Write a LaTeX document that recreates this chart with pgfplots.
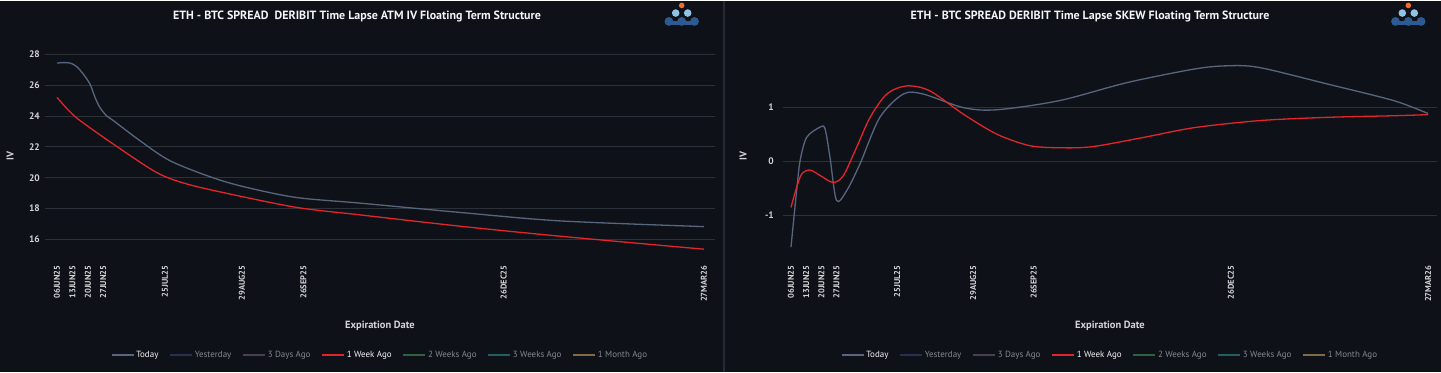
\documentclass[border=0pt]{standalone}
\usepackage{pgfplots}
\pgfplotsset{compat=1.18}
\usepackage{fontspec}
\setmainfont{PT Sans}
\definecolor{bg}{HTML}{0E1117}
\definecolor{gridc}{HTML}{2C3039}
\definecolor{txt}{HTML}{D4D4D6}
\definecolor{ttl}{HTML}{F4F4F4}
\definecolor{today}{HTML}{56667E}
\definecolor{yest}{HTML}{22324F}
\definecolor{three}{HTML}{46404F}
\definecolor{week}{HTML}{E0262C}
\definecolor{twow}{HTML}{2F6040}
\definecolor{threew}{HTML}{235E60}
\definecolor{month}{HTML}{806A48}
\definecolor{dimtxt}{HTML}{85888E}
\definecolor{divc}{HTML}{262932}
\definecolor{logoo}{HTML}{F26B2A}
\definecolor{logol}{HTML}{8EC3E6}
\definecolor{logod}{HTML}{2D5A92}

\pgfplotstableread{
d v
0 27.42
3 27.45
6 27.42
8.9 27.2
12 26.7
15 26.06
17.3 25.2
19.5 24.55
22.6 24.0
25.6 23.7
37.7 22.4
51.4 21.1
70.9 20.0
86.4 19.37
109 18.72
137.7 18.36
183 17.76
228.6 17.21
294 16.84
}\ivtoday
\pgfplotstableread{
d v
0 25.2
5 24.4
10.5 23.7
25.6 22.18
45.3 20.34
59 19.6
78.6 18.95
109 18.08
137.7 17.6
183 16.87
228.6 16.22
294 15.38
}\ivweek
\pgfplotstableread{
d v
0 -1.58
2.6 -0.54
4.2 0.01
7.2 0.44
13.4 0.63
15.7 0.6
18 0.07
21 -0.72
25.7 -0.54
31.8 -0.05
41 0.81
51.8 1.24
61 1.24
79.5 0.99
95 0.95
124 1.12
155 1.45
186 1.70
201 1.76
216 1.73
247 1.43
278 1.12
294 0.88
}\skewtoday
\pgfplotstableread{
d v
0 -0.85
2.6 -0.48
5 -0.23
8.8 -0.16
13.4 -0.26
19.5 -0.39
24.2 -0.26
30.3 0.26
36.5 0.81
44.2 1.24
53.4 1.39
64 1.30
79.5 0.87
95 0.50
110 0.29
124 0.25
139 0.27
162.6 0.44
186 0.62
216 0.75
247 0.81
278 0.84
294 0.86
}\skewweek

\pgfplotsset{
  common/.style={
    scale only axis, height=205.1bp,
    axis line style={draw=none}, major tick length=0pt,
    ymajorgrids, grid style={gridc, line width=0.8bp},
    xtick={0,7,14,21,49,84,112,203,294},
    xticklabels={06JUN25,13JUN25,20JUN25,27JUN25,25JUL25,29AUG25,26SEP25,26DEC25,27MAR26},
    xticklabel style={rotate=90, anchor=east, inner xsep=7bp, inner ysep=0pt,
      font=\fontsize{8.5}{9}\selectfont\bfseries, text=txt},
    yticklabel style={font=\fontsize{9.5}{10}\selectfont\bfseries, text=txt},
    /pgf/number format/assume math mode=true,
    xlabel={Expiration Date}, ylabel={IV},
    every axis x label/.style={at={(0.5,-0.327)}, anchor=center, text=txt,
      font=\fontsize{10.5}{11}\selectfont\bfseries},
    legend columns=7,
    legend style={at={(0.5,-0.47)}, anchor=center, draw=none, fill=none,
      font=\fontsize{9}{10}\selectfont, text=dimtxt,
      /tikz/every even column/.append style={column sep=9bp}},
    legend image code/.code={\draw[##1, line width=1.4bp] (0bp,0bp)--(22bp,0bp);},
    every axis plot/.append style={smooth, tension=0.5, line width=1.3bp},
  }
}

\begin{document}
\begin{tikzpicture}
\fill[bg] (0bp,0bp) rectangle (1441bp,371bp);
\draw[divc, line width=1.5bp] (724bp,0bp)--(724bp,371bp);

\node[text=ttl, font=\fontsize{12}{13}\selectfont\bfseries] at (357bp,355bp) {ETH - BTC SPREAD\ \ DERIBIT Time Lapse ATM IV Floating Term Structure};
\node[text=ttl, font=\fontsize{12}{13}\selectfont\bfseries] at (1090bp,355bp) {ETH - BTC SPREAD DERIBIT Time Lapse SKEW Floating Term Structure};

% logos (decoration)
\foreach \cx in {681.7,1408.3}{
  \fill[logod] (\cx bp-12.8bp,350.3bp) circle (4.4bp);
  \fill[logod] (\cx bp,350.3bp) circle (4.4bp);
  \fill[logod] (\cx bp+12.8bp,350.3bp) circle (4.4bp);
  \fill[logod] (\cx bp-12.8bp,347bp) rectangle (\cx bp+12.8bp,350.3bp);
  \fill[logol] (\cx bp-6bp,358.7bp) circle (3.8bp);
  \fill[logol] (\cx bp+6bp,358.7bp) circle (3.8bp);
  \fill[logoo] (\cx bp,366.3bp) circle (2.8bp);
}

\begin{axis}[common, at={(45bp,113.3bp)}, anchor=south west, width=670bp,
  xmin=-5.45, xmax=299.1, ymin=14.78, ymax=28.05,
  ytick={16,18,20,22,24,26,28},
  yticklabel style={inner xsep=5bp},
  every axis y label/.style={at={(-0.052,0.5)}, rotate=90, anchor=center, text=txt,
      font=\fontsize{10}{11}\selectfont\bfseries},
]
\addplot[today] table[x=d,y=v] {\ivtoday};
\addlegendentry{\textcolor{ttl}{Today}}
\addlegendimage{yest}\addlegendentry{Yesterday}
\addlegendimage{three}\addlegendentry{3 Days Ago}
\addplot[week] table[x=d,y=v] {\ivweek};
\addlegendentry{\textcolor{ttl}{1 Week Ago}}
\addlegendimage{twow}\addlegendentry{2 Weeks Ago}
\addlegendimage{threew}\addlegendentry{3 Weeks Ago}
\addlegendimage{month}\addlegendentry{1 Month Ago}
\end{axis}

\begin{axis}[common, at={(783bp,113.3bp)}, anchor=south west, width=654bp,
  xmin=-3.69, xmax=298.1, ymin=-1.79, ymax=1.99,
  ytick={-1,0,1},
  yticklabel style={inner xsep=9bp},
  every axis y label/.style={at={(-0.061,0.5)}, rotate=90, anchor=center, text=txt,
      font=\fontsize{10}{11}\selectfont\bfseries},
]
\addplot[today] table[x=d,y=v] {\skewtoday};
\addlegendentry{\textcolor{ttl}{Today}}
\addlegendimage{yest}\addlegendentry{Yesterday}
\addlegendimage{three}\addlegendentry{3 Days Ago}
\addplot[week] table[x=d,y=v] {\skewweek};
\addlegendentry{\textcolor{ttl}{1 Week Ago}}
\addlegendimage{twow}\addlegendentry{2 Weeks Ago}
\addlegendimage{threew}\addlegendentry{3 Weeks Ago}
\addlegendimage{month}\addlegendentry{1 Month Ago}
\end{axis}
\end{tikzpicture}
\end{document}
